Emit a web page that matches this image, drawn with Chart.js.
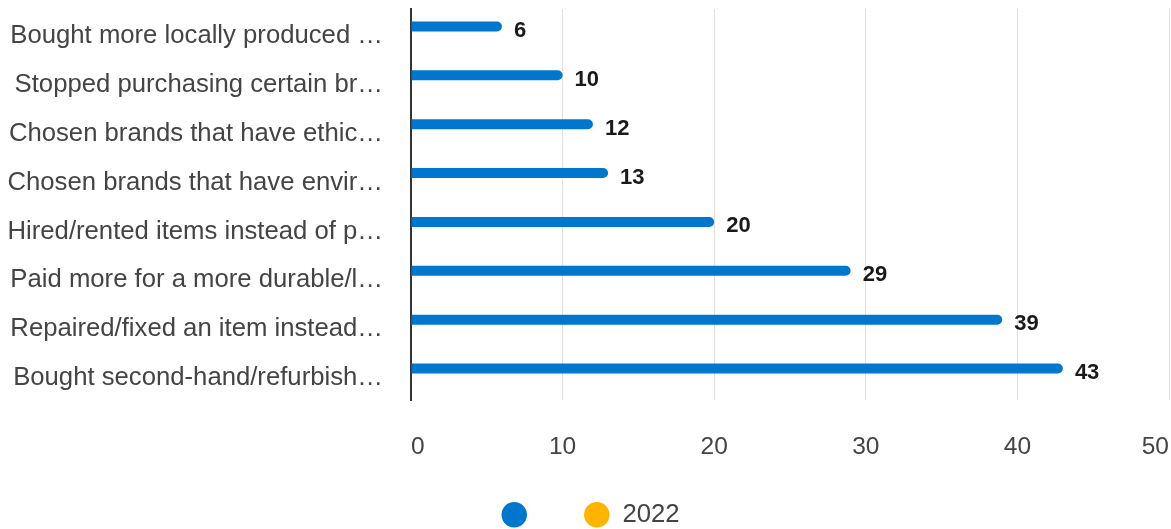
<!DOCTYPE html>
<html>
<head>
<meta charset="utf-8">
<script src="https://cdn.jsdelivr.net/npm/chart.js@4"></script>
<style>
  html, body { margin: 0; padding: 0; background: #fff; }
  #wrap { width: 1171px; height: 529px; }
</style>
</head>
<body>
<div id="wrap"><canvas id="chart"></canvas></div>
<script>
const categories = [
  'Bought more locally produced \u2026',
  'Stopped purchasing certain br\u2026',
  'Chosen brands that have ethic\u2026',
  'Chosen brands that have envir\u2026',
  'Hired/rented items instead of p\u2026',
  'Paid more for a more durable/l\u2026',
  'Repaired/fixed an item instead\u2026',
  'Bought second-hand/refurbish\u2026'
];
const values = [6, 10, 12, 13, 20, 29, 39, 43];
const values2022 = [];
const xTicks = [0, 10, 20, 30, 40, 50];

const FONT = '"Liberation Sans", Arial, sans-serif';

const valueLabels = {
  id: 'valueLabels',
  afterLayout(chart) {
    // let the long category labels use the space left of the layout padding
    chart.scales.y.left = 0;
  },
  afterDatasetsDraw(chart) {
    const ctx = chart.ctx;
    const meta = chart.getDatasetMeta(0);
    ctx.save();
    ctx.font = 'bold 22px ' + FONT;
    ctx.fillStyle = '#1a1a1a';
    ctx.textAlign = 'left';
    ctx.textBaseline = 'middle';
    meta.data.forEach((bar, i) => {
      ctx.fillText(String(values[i]), bar.x + 12, bar.y + 4.5);
    });
    ctx.restore();
  }
};

// no automatic padding from tick labels; the layout padding sets the plot box
function noPad(scale) {
  scale.paddingLeft = 0;
  scale.paddingRight = 0;
  scale.paddingTop = 0;
  scale.paddingBottom = 0;
}

new Chart(document.getElementById('chart'), {
  type: 'bar',
  data: {
    labels: categories,
    datasets: [
      {
        label: '',
        data: values,
        backgroundColor: '#0077cc',
        borderWidth: 0,
        borderRadius: 5,
        categoryPercentage: 0.574,
        barPercentage: 0.71
      },
      {
        label: '2022',
        data: values2022,
        backgroundColor: '#ffb400',
        borderWidth: 0,
        categoryPercentage: 0.574,
        barPercentage: 0.71
      }
    ]
  },
  options: {
    indexAxis: 'y',
    responsive: true,
    maintainAspectRatio: false,
    animation: false,
    layout: { autoPadding: false, padding: { left: 12, right: 2, top: 9, bottom: 0 } },
    plugins: {
      legend: {
        position: 'bottom',
        maxHeight: 71,
        labels: {
          usePointStyle: true,
          pointStyle: 'circle',
          boxHeight: 18,
          padding: 44,
          color: '#444',
          font: { family: FONT, size: 25.7 }
        }
      },
      tooltip: { enabled: false }
    },
    scales: {
      x: {
        min: 0,
        max: 50,
        afterFit(scale) { scale.height = 58; noPad(scale); },
        afterBuildTicks(scale) { scale.ticks = xTicks.map(v => ({ value: v })); },
        grid: { color: '#e0e0e0', lineWidth: 1, drawTicks: false },
        border: { display: false },
        ticks: {
          align: 'inner',
          padding: 33,
          color: '#444',
          font: { family: FONT, size: 24.5 }
        }
      },
      y: {
        afterFit(scale) { scale.width = 399; noPad(scale); },
        grid: { color: 'transparent', drawTicks: false },
        border: { display: true, color: '#333', width: 2 },
        ticks: {
          padding: 28,
          labelOffset: 2.5,
          color: '#444',
          font: { family: FONT, size: 25.7 }
        }
      }
    }
  },
  plugins: [valueLabels]
});
</script>
</body>
</html>
